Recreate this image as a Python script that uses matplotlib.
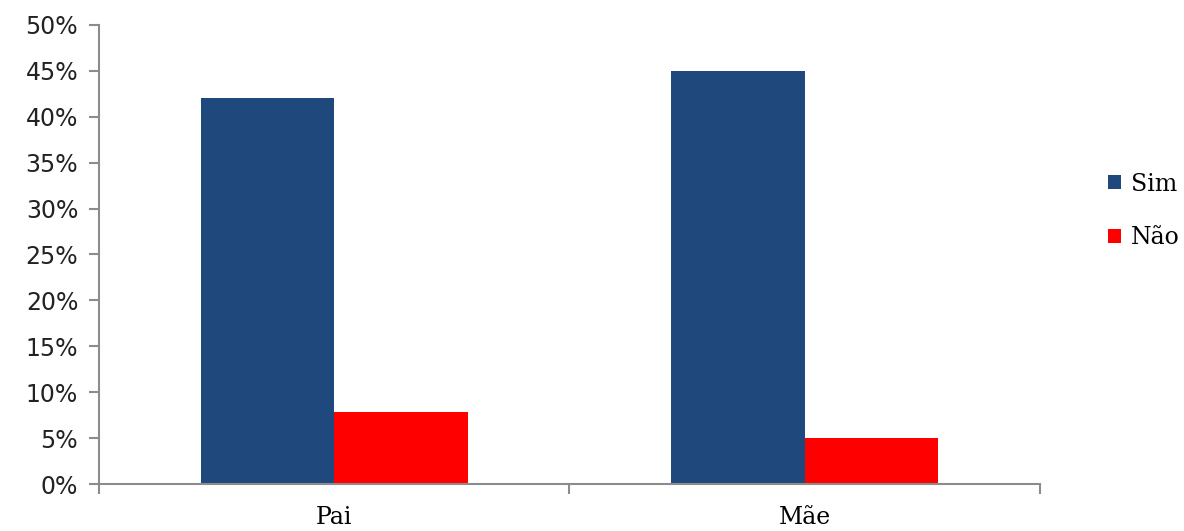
import matplotlib.pyplot as plt
import numpy as np
from matplotlib.ticker import FuncFormatter

categories = ["Pai", "Mãe"]
sim = [42.0, 45.0]
nao = [7.8, 5.0]
series_names = ["Sim", "Não"]

fig = plt.figure(figsize=(11.84, 5.31), dpi=100)
ax = fig.add_axes([0.0836, 0.0885, 0.7947, 0.8645])

x = np.arange(len(categories))
width = 0.284
ax.bar(x - width / 2, sim, width, color="#1F497D", label=series_names[0])
ax.bar(x + width / 2, nao, width, color="#FF0000", label=series_names[1])

ax.set_xlim(-0.5, 1.5)
ax.set_ylim(0, 50)
ax.set_yticks(range(0, 51, 5))
ax.yaxis.set_major_formatter(FuncFormatter(lambda v, p: f"{v:.0f}%"))

# category ticks sit between groups, labels in the middle
ax.set_xticks([-0.5, 0.5, 1.5])
ax.set_xticklabels([])
ax.set_xticks(x, minor=True)
ax.set_xticklabels(categories, minor=True, family="DejaVu Serif", fontsize=17)
ax.tick_params(axis="x", which="minor", length=0, pad=16)

axis_color = "#8C8C8C"
for side in ["top", "right"]:
    ax.spines[side].set_visible(False)
for side in ["left", "bottom"]:
    ax.spines[side].set_color(axis_color)
    ax.spines[side].set_linewidth(1.5)
ax.tick_params(axis="both", which="major", color=axis_color, width=1.5, length=7)
ax.tick_params(axis="y", labelsize=17, labelcolor="#222222", pad=8)
for lbl in ax.get_yticklabels():
    lbl.set_family("DejaVu Sans")

leg = ax.legend(loc="center left", bbox_to_anchor=(1.05, 0.595), frameon=False,
                handlelength=0.55, handleheight=0.55, handletextpad=0.4,
                labelspacing=1.3, prop={"family": "DejaVu Serif", "size": 17})

fig.savefig("out.png", dpi=100)
